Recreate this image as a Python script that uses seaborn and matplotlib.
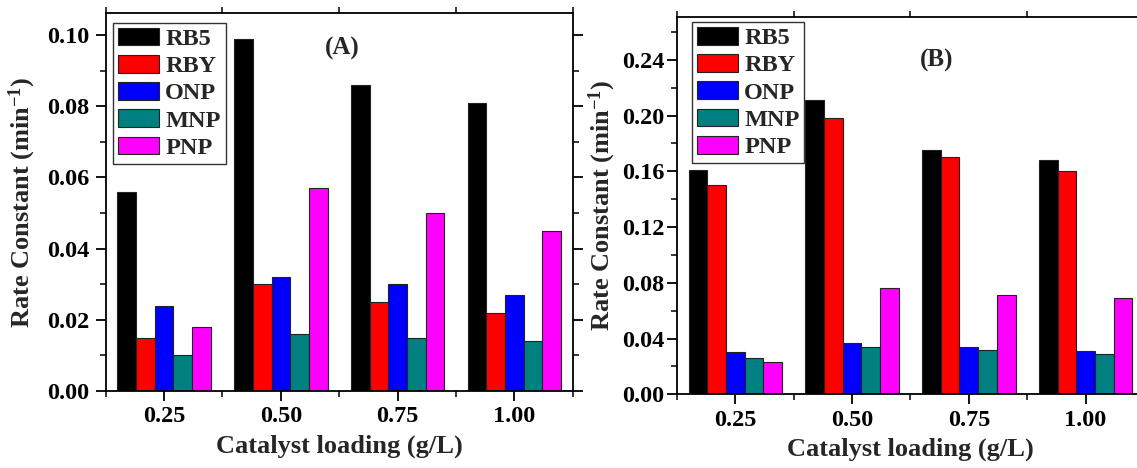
import numpy as np
import pandas as pd
import matplotlib
matplotlib.use("Agg")
import matplotlib.pyplot as plt
from matplotlib.ticker import MultipleLocator, FormatStrFormatter
import seaborn as sns

# Data
loadings = ["0.25", "0.50", "0.75", "1.00"]
dyes = ["RB5", "RBY", "ONP", "MNP", "PNP"]
colors = ["#000000", "#FF0000", "#0000FF", "#008080", "#FF00FF"]

# Panel (A)
a_rb5 = [0.056, 0.099, 0.086, 0.081]
a_rby = [0.015, 0.030, 0.025, 0.022]
a_onp = [0.024, 0.032, 0.030, 0.027]
a_mnp = [0.010, 0.016, 0.015, 0.014]
a_pnp = [0.018, 0.057, 0.050, 0.045]

# Panel (B)
b_rb5 = [0.161, 0.211, 0.175, 0.168]
b_rby = [0.150, 0.198, 0.170, 0.160]
b_onp = [0.030, 0.037, 0.034, 0.031]
b_mnp = [0.026, 0.034, 0.032, 0.029]
b_pnp = [0.023, 0.076, 0.071, 0.069]


def to_long(series):
    rows = []
    for dye, vals in zip(dyes, series):
        for load, v in zip(loadings, vals):
            rows.append({"Loading": load, "Dye": dye, "k": v})
    return pd.DataFrame(rows)


df_a = to_long([a_rb5, a_rby, a_onp, a_mnp, a_pnp])
df_b = to_long([b_rb5, b_rby, b_onp, b_mnp, b_pnp])

sns.set_theme(style="ticks")
plt.rcParams['font.family'] = ['Liberation Serif', 'DejaVu Serif']
plt.rcParams['font.weight'] = 'bold'
plt.rcParams['axes.labelweight'] = 'bold'
plt.rcParams['mathtext.fontset'] = 'custom'
plt.rcParams['mathtext.rm'] = 'Liberation Serif:bold'
plt.rcParams['mathtext.bf'] = 'Liberation Serif:bold'
plt.rcParams['mathtext.default'] = 'bf'

fig = plt.figure(figsize=(11.37, 4.68), dpi=100)
ax_a = fig.add_axes([0.0930, 0.1645, 0.4107, 0.8071])
ax_b = fig.add_axes([0.5954, 0.1575, 0.4107, 0.8068])


def draw_panel(ax, df, ymax, major, minor, tag, tag_xy, leg_xy, ytick_pad,
               ylab_pad):
    sns.barplot(data=df, x="Loading", y="k", hue="Dye", order=loadings,
                hue_order=dyes, palette=colors, width=0.8, saturation=1,
                edgecolor="#222222", linewidth=0.8, ax=ax)
    ax.set_xlim(-0.5, 3.5)
    ax.set_ylim(0, ymax)
    ax.yaxis.set_major_locator(MultipleLocator(major))
    ax.yaxis.set_minor_locator(MultipleLocator(minor))
    ax.set_xticks(np.arange(-0.5, 4.0, 1.0), minor=True)
    ax.yaxis.set_major_formatter(FormatStrFormatter('%.2f'))
    for s in ax.spines.values():
        s.set_visible(True)
        s.set_color("black")
        s.set_linewidth(1.3)
    ax.tick_params(axis="both", which="major", direction="out", length=7,
                   width=1.3, labelsize=17.5, colors="black")
    ax.tick_params(axis="both", which="minor", direction="out", length=4,
                   width=1.1, colors="black")
    ax.tick_params(axis="y", which="major", pad=ytick_pad)
    ax.tick_params(axis="x", which="major", pad=4)
    ax.tick_params(right=True, which="both")
    ax.tick_params(axis="x", which="minor", top=True)
    for lab in ax.get_xticklabels() + ax.get_yticklabels():
        lab.set_fontweight("bold")
    ax.set_xlabel("Catalyst loading (g/L)", fontsize=19, fontweight="bold",
                  labelpad=5)
    ax.set_ylabel("Rate Constant (min$^{-1}$)", fontsize=19,
                  fontweight="bold", labelpad=ylab_pad)
    ax.text(tag_xy[0], tag_xy[1], tag, transform=ax.transAxes, fontsize=18,
            fontweight="bold", ha="center", va="center")
    handles, labels = ax.get_legend_handles_labels()
    leg = ax.legend(handles, labels, loc="upper left", bbox_to_anchor=leg_xy,
                    frameon=True, fancybox=False, edgecolor="#333333",
                    framealpha=1, handlelength=1.7, handleheight=0.75,
                    labelspacing=0.2, borderpad=0.2, handletextpad=0.25,
                    borderaxespad=0.0, prop={"size": 17.5, "weight": "bold"})
    leg.get_frame().set_linewidth(1.0)


draw_panel(ax_a, df_a, 0.1061, 0.02, 0.01, "(A)", (0.506, 0.908),
           (0.0156, 0.975), 5, 6)
draw_panel(ax_b, df_b, 0.271, 0.04, 0.02, "(B)", (0.555, 0.885),
           (0.032, 0.986), 2, 3)

fig.savefig("out.png", dpi=100)
